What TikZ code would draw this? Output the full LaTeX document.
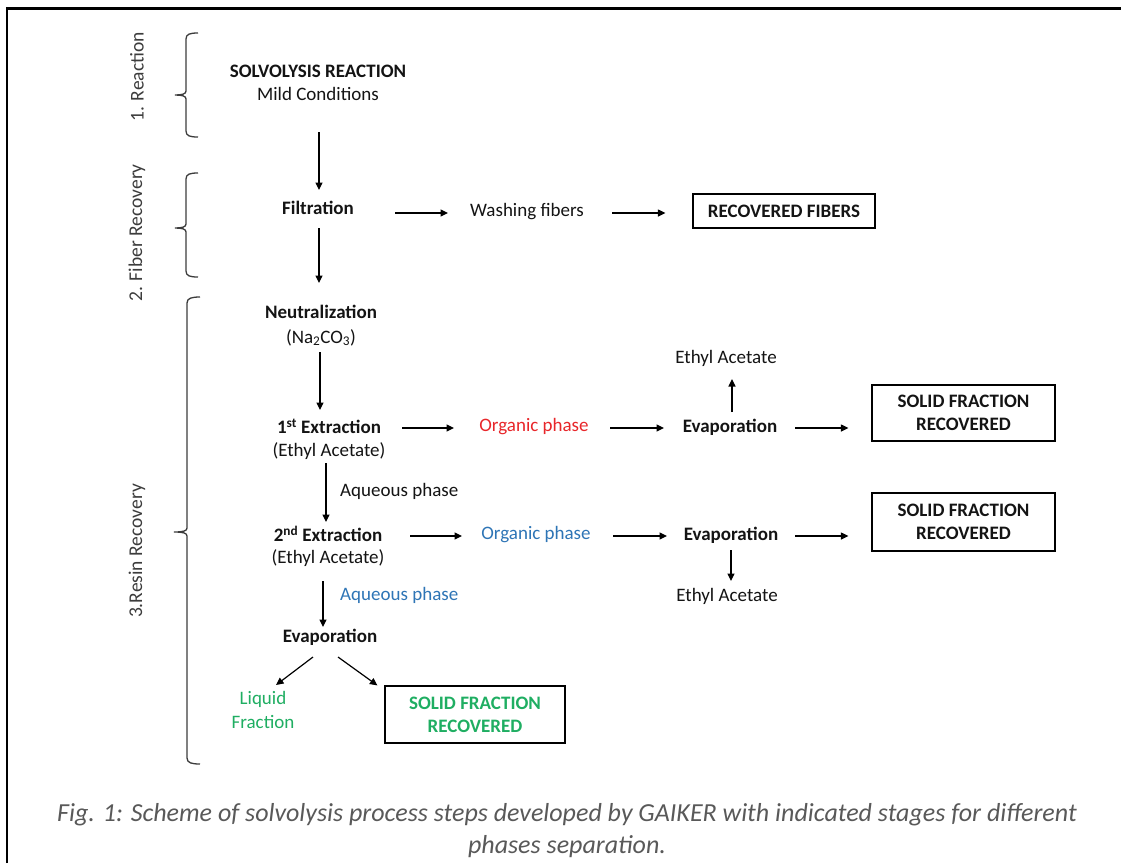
\documentclass[tikz,border=0pt]{standalone}
\usepackage{fontspec}
\setmainfont{Carlito}
\usetikzlibrary{arrows.meta,calc}
\definecolor{txtblack}{HTML}{141414}
\definecolor{orgred}{HTML}{E8262A}
\definecolor{orgblue}{HTML}{2E75B6}
\definecolor{liqgreen}{HTML}{1FAE62}
\definecolor{capgray}{HTML}{595959}
\definecolor{bracegray}{HTML}{3C3C3C}
\begin{document}
\begin{tikzpicture}[x=1pt,y=-1pt,
  txt/.style={font=\fontsize{19}{23}\selectfont, inner sep=0pt, align=center, text=txtblack},
  btxt/.style={txt, font=\fontsize{19}{23}\selectfont\bfseries},
  boxnode/.style={draw=black, line width=1.2pt, inner sep=0pt, align=center,
    font=\fontsize{19}{23}\selectfont\bfseries, text=txtblack, minimum width=183pt},
  arr/.style={line width=1.2pt, draw=black, -{Triangle[length=7.5pt,width=7pt]}},
  bracestyle/.style={line width=1.3pt, draw=bracegray},
  stagelab/.style={font=\fontsize{19.5}{23}\selectfont, text=bracegray, rotate=90, inner sep=0pt}
]
\useasboundingbox (0,0) rectangle (1121,863);
\fill[white] (0,0) rectangle (1121,863);
% frame
\draw[line width=2.6pt] (7,863) -- (7,8.7) -- (1121,8.7);

% stage labels
\node[stagelab] (lab1) at (137,77) {1. Reaction};
\node[stagelab] (lab2) at (137,233) {2. Fiber Recovery};
\node[stagelab] (lab3) at (137,551) {3.Resin Recovery};

% braces
\draw[bracestyle] (198,33) .. controls (190,33) and (186,34) .. (186,39) -- (186,91) .. controls (186,94) and (182,95) .. (175,95) .. controls (182,95) and (186,96) .. (186,99) -- (186,131) .. controls (186,136) and (190,137) .. (198,137);
\draw[bracestyle] (198,173) .. controls (190,173) and (186,174) .. (186,179) -- (186,224) .. controls (186,227) and (182,228) .. (175,228) .. controls (182,228) and (186,229) .. (186,232) -- (186,271) .. controls (186,276) and (190,277) .. (198,277);
\draw[bracestyle] (200,297) .. controls (192,297) and (187,298) .. (187,303) -- (187,528) .. controls (187,531) and (183,532) .. (174,532) .. controls (183,532) and (187,533) .. (187,536) -- (187,758) .. controls (187,763) and (192,764) .. (200,764);

% main column
\node[txt] (sr) at (318,82.5) {\textbf{SOLVOLYSIS REACTION}\\Mild Conditions};
\node[btxt] (filt) at (318,208) {Filtration};
\node[txt,font=\fontsize{19}{25}\selectfont] (neut) at (321,325.5) {\textbf{Neutralization}\\(Na\textsubscript{2}CO\textsubscript{3})};
\node[txt] (ex1) at (329,439.5) {\textbf{1\textsuperscript{st} Extraction}\\(Ethyl Acetate)};
\node[txt,font=\fontsize{19}{22}\selectfont] (ex2) at (328,546) {\textbf{2\textsuperscript{nd} Extraction}\\(Ethyl Acetate)};
\node[btxt] (evap3) at (330,637) {Evaporation};
\node[txt, text=liqgreen, font=\fontsize{19}{24}\selectfont] (liq) at (263,710) {Liquid\\Fraction};
\node[boxnode, text=liqgreen, minimum width=180pt, minimum height=57pt] (sfr3) at (475,714.5) {SOLID FRACTION\\RECOVERED};

% labels on vertical arrows
\node[txt, anchor=west] (aq1) at (340,491) {Aqueous phase};
\node[txt, anchor=west, text=orgblue] (aq2) at (340,595) {Aqueous phase};

% fiber row
\node[txt] (wash) at (527,212) {Washing fibers};
\node[boxnode, minimum width=182pt, minimum height=34pt] (recf) at (784,211) {RECOVERED FIBERS};

% first extraction row
\node[txt, text=orgred] (org1) at (534,427) {Organic phase};
\node[btxt] (evap1) at (730,427) {Evaporation};
\node[txt] (ea1) at (726,358) {Ethyl Acetate};
\node[boxnode, minimum height=56pt] (sf1) at (963.5,413) {SOLID FRACTION\\RECOVERED};

% second extraction row
\node[txt, text=orgblue] (org2) at (536,535) {Organic phase};
\node[btxt] (evap2) at (731,535) {Evaporation};
\node[txt] (ea2) at (727,596) {Ethyl Acetate};
\node[boxnode, minimum height=58pt] (sf2) at (963.5,522) {SOLID FRACTION\\RECOVERED};

% arrows
\draw[arr] ([shift={(1pt,-49.5pt)}]sr.center) -- ([shift={(1pt,18pt)}]filt.center);
\draw[arr] ([shift={(1pt,-20pt)}]filt.center) -- ([shift={(-2pt,42.5pt)}]neut.center);
\draw[arr] ([shift={(77pt,-5pt)}]filt.center) -- ([shift={(-79pt,-1pt)}]wash.center);
\draw[arr] ([shift={(85pt,-1pt)}]wash.center) -- ([shift={(-27pt,-2pt)}]recf.west);
\draw[arr] ([shift={(-1pt,-26.5pt)}]neut.center) -- ([shift={(-9pt,29.5pt)}]ex1.center);
\draw[arr] ([shift={(73pt,11.5pt)}]ex1.center) -- ([shift={(-80pt,-1pt)}]org1.center);
\draw[arr] ([shift={(76pt,-1pt)}]org1.center) -- ([shift={(-66pt,-1pt)}]evap1.center);
\draw[arr] ([shift={(2pt,15pt)}]evap1.center) -- ([shift={(6pt,-21pt)}]ea1.center);
\draw[arr] ([shift={(65pt,-1pt)}]evap1.center) -- ([shift={(-23pt,-15pt)}]sf1.west);
\draw[arr] ([shift={(-3pt,-23.5pt)}]ex1.center) -- ([shift={(-2pt,24pt)}]ex2.center);
\draw[arr] ([shift={(82pt,10pt)}]ex2.center) -- ([shift={(-74pt,-1pt)}]org2.center);
\draw[arr] ([shift={(77pt,-1pt)}]org2.center) -- ([shift={(-64pt,-1pt)}]evap2.center);
\draw[arr] ([shift={(0pt,-15pt)}]evap2.center) -- ([shift={(4pt,15pt)}]ea2.center);
\draw[arr] ([shift={(64pt,-1pt)}]evap2.center) -- ([shift={(-23pt,-14pt)}]sf2.west);
\draw[arr] ([shift={(-5pt,-35pt)}]ex2.center) -- ([shift={(-7pt,10pt)}]evap3.center);
\draw[arr] ([shift={(-17pt,-20pt)}]evap3.center) -- ([shift={(13pt,25pt)}]liq.center);
\draw[arr] ([shift={(8pt,-20pt)}]evap3.center) -- ([shift={(-7pt,0pt)}]sfr3.north west);

% caption
\node[font=\fontsize{26}{32}\selectfont\itshape, text=capgray, align=center, inner sep=0pt] (cap) at (567,831)
  {Fig. 1: Scheme of solvolysis process steps developed by GAIKER with indicated stages for different\\phases separation.};
\end{tikzpicture}
\end{document}
